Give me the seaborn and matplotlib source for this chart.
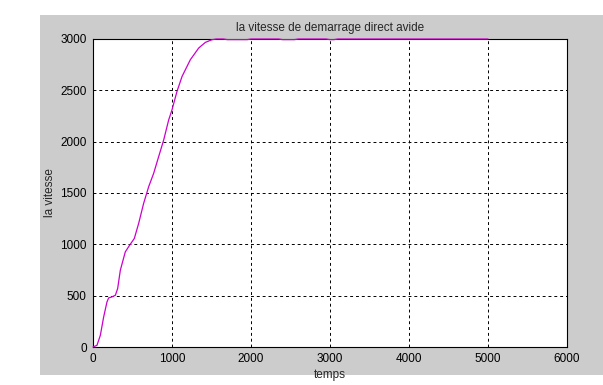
import matplotlib
matplotlib.use("Agg")
import matplotlib.pyplot as plt
import seaborn as sns
import pandas as pd
from matplotlib.patches import Rectangle

temps = [0, 50, 93, 135, 177, 198, 240, 283, 312, 346, 409, 464, 523, 578, 641,
         705, 768, 831, 895, 958, 1000, 1063, 1127, 1232, 1338, 1422, 1506, 1560,
         1650, 1700, 1950, 2000, 2050, 2350, 2400, 2550, 2600, 2650, 2950, 3000,
         3050, 3100, 3150, 5000]
vitesse = [0, 16, 114, 293, 439, 478, 488, 504, 569, 748, 927, 992, 1057, 1204, 1399,
           1562, 1692, 1854, 2017, 2212, 2310, 2489, 2635, 2798, 2912, 2967, 2993, 3000,
           3000, 2994, 2994, 3000, 3000, 3000, 2994, 2994, 3000, 3000, 3000, 2994,
           2994, 3000, 3000, 3000]

df = pd.DataFrame({"temps": temps, "vitesse": vitesse})

sns.set_style("white")
plt.rcParams['font.family'] = ['Liberation Sans', 'DejaVu Sans']

fig = plt.figure(figsize=(6.03, 3.85), dpi=100)
fig.patch.set_facecolor("white")
bg = Rectangle((40/603, 1-375/385), 1-40/603, (375-15)/385,
               transform=fig.transFigure, facecolor="#cccccc",
               edgecolor="none", zorder=-10)
fig.add_artist(bg)

ax = fig.add_axes([93/603, 1-347/385, (567-93)/603, (347-39)/385])
ax.set_zorder(1)
ax.set_facecolor("white")
sns.lineplot(data=df, x="temps", y="vitesse", ax=ax, color="#cc00cc",
             linewidth=0.9, sort=False, estimator=None, zorder=3, clip_on=False)

ax.set_xlim(0, 6000)
ax.set_ylim(0, 3000)
ax.set_xticks(range(0, 6001, 1000))
ax.set_yticks(range(0, 3001, 500))
ax.grid(True, color="black", linestyle=(0, (3, 3)), linewidth=0.7)
for s in ax.spines.values():
    s.set_color("black")
    s.set_linewidth(0.8)
ax.tick_params(axis="y", direction="out", length=3.5, width=0.8,
               labelsize=8.5, colors="black", pad=1)
ax.tick_params(axis="x", direction="in", length=3, width=0.8,
               labelsize=8.5, colors="black", pad=4)
ax.set_title("la vitesse de demarrage direct avide", fontsize=8.5, pad=6)
ax.set_xlabel("temps", fontsize=8.5, labelpad=3)
ax.set_ylabel("la vitesse", fontsize=8.5, labelpad=3)

fig.savefig("out.png", dpi=100)
